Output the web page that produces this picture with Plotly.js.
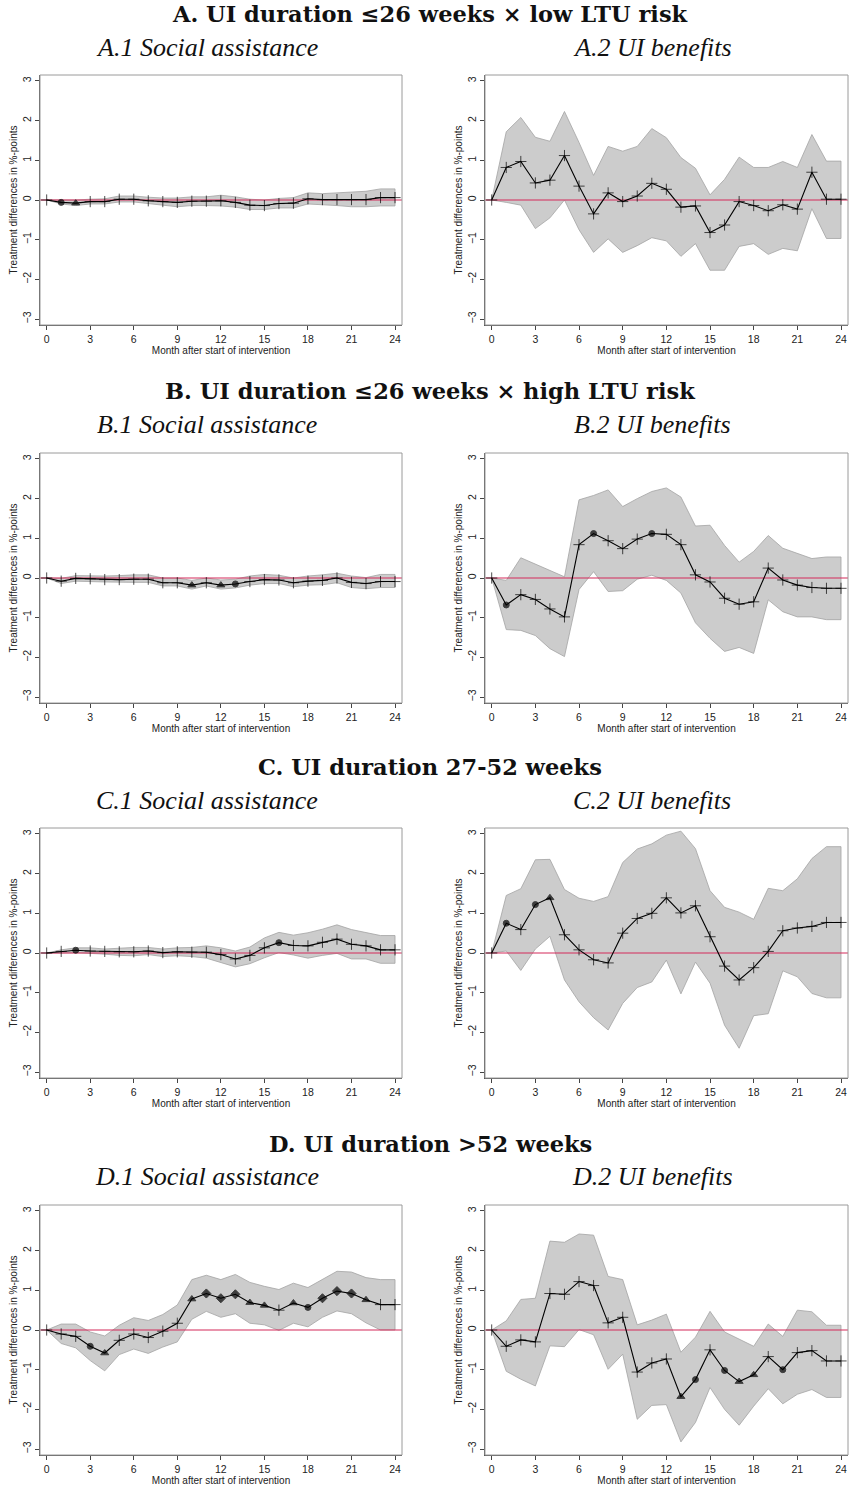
<!DOCTYPE html>
<html>
<head>
<meta charset="utf-8">
<script src="https://cdn.plot.ly/plotly-3.0.1.min.js"></script>
<style>html,body{margin:0;padding:0;background:#fff;}#chart{width:849px;height:1486px;}</style>
</head>
<body>
<div id="chart"></div>
<script>
// ---------- DATA ----------
const months = [0,1,2,3,4,5,6,7,8,9,10,11,12,13,14,15,16,17,18,19,20,21,22,23,24];
const xTicks = [0,3,6,9,12,15,18,21,24];
const yTicks = [-3,-2,-1,0,1,2,3];

const sectionTitles = [
  "A. UI duration ≤26 weeks × low LTU risk",
  "B. UI duration ≤26 weeks × high LTU risk",
  "C. UI duration 27-52 weeks",
  "D. UI duration >52 weeks"
];
const panelTitles = [
  "A.1 Social assistance", "A.2 UI benefits",
  "B.1 Social assistance", "B.2 UI benefits",
  "C.1 Social assistance", "C.2 UI benefits",
  "D.1 Social assistance", "D.2 UI benefits"
];
const xAxisTitle = "Month after start of intervention";
const yAxisTitle = "Treatment differences in %-points";

// marker codes: p = plus, t = triangle, c = circle, d = diamond
// A.1
const a1Est = [0,-0.06,-0.08,-0.04,-0.04,0.02,0.02,-0.02,-0.04,-0.06,-0.03,-0.03,-0.02,-0.06,-0.13,-0.14,-0.09,-0.08,0.03,0.01,0.01,0.01,0.01,0.06,0.06];
const a1Hi  = [0,0,0,0.02,0.03,0.1,0.1,0.07,0.05,0.05,0.08,0.08,0.12,0.08,0.02,0,0.04,0.06,0.18,0.16,0.18,0.2,0.22,0.28,0.28];
const a1Lo  = [0,-0.1,-0.14,-0.1,-0.1,-0.05,-0.05,-0.1,-0.13,-0.17,-0.14,-0.14,-0.15,-0.18,-0.24,-0.24,-0.2,-0.2,-0.1,-0.12,-0.14,-0.17,-0.17,-0.15,-0.15];
const a1Sig = ['p','c','t','p','p','p','p','p','p','p','p','p','p','p','p','p','p','p','p','p','p','p','p','p','p'];
// A.2
const a2Est = [0,0.82,0.97,0.43,0.5,1.12,0.35,-0.35,0.18,-0.04,0.1,0.42,0.27,-0.18,-0.15,-0.82,-0.63,-0.04,-0.14,-0.27,-0.12,-0.23,0.7,0.02,0.02];
const a2Hi  = [0,1.72,2.08,1.58,1.48,2.23,1.45,0.62,1.35,1.23,1.35,1.8,1.57,1.07,0.8,0.13,0.52,1.08,0.82,0.82,0.97,0.82,1.65,0.98,0.98];
const a2Lo  = [0,-0.06,-0.13,-0.72,-0.45,0,-0.75,-1.32,-0.98,-1.32,-1.15,-0.95,-1.03,-1.42,-1.1,-1.77,-1.77,-1.17,-1.1,-1.37,-1.22,-1.28,-0.22,-0.97,-0.97];
const a2Sig = ['p','p','p','p','p','p','p','p','p','p','p','p','p','p','p','p','p','p','p','p','p','p','p','p','p'];
// B.1
const b1Est = [0,-0.08,-0.01,-0.02,-0.04,-0.04,-0.03,-0.03,-0.12,-0.12,-0.18,-0.12,-0.18,-0.15,-0.09,-0.04,-0.05,-0.12,-0.08,-0.06,0,-0.11,-0.14,-0.09,-0.09];
const b1Hi  = [0,-0.01,0.06,0.05,0.05,0.06,0.08,0.08,0,0,-0.06,0,-0.05,-0.03,0.05,0.09,0.07,0,0.05,0.08,0.12,0.05,0.01,0.09,0.09];
const b1Lo  = [0,-0.14,-0.08,-0.09,-0.1,-0.11,-0.11,-0.11,-0.2,-0.2,-0.28,-0.2,-0.28,-0.25,-0.18,-0.14,-0.14,-0.22,-0.18,-0.17,-0.12,-0.24,-0.27,-0.24,-0.24];
const b1Sig = ['p','p','p','p','p','p','p','p','p','p','t','p','t','c','p','p','p','p','p','p','p','p','p','p','p'];
// B.2
const b2Est = [0,-0.68,-0.42,-0.54,-0.78,-0.98,0.84,1.12,0.94,0.74,0.98,1.12,1.1,0.84,0.08,-0.1,-0.51,-0.66,-0.6,0.25,-0.05,-0.18,-0.24,-0.26,-0.26];
const b2Hi  = [0,-0.06,0.51,0.35,0.19,0.03,1.97,2.08,2.22,1.8,2.0,2.18,2.27,2.04,1.31,1.33,0.82,0.4,0.67,1.07,0.75,0.61,0.49,0.53,0.53];
const b2Lo  = [0,-1.3,-1.32,-1.45,-1.78,-1.98,-0.29,0.16,-0.34,-0.32,-0.03,0.07,-0.06,-0.38,-1.13,-1.52,-1.85,-1.75,-1.9,-0.55,-0.85,-0.98,-0.98,-1.05,-1.05];
const b2Sig = ['p','c','p','p','p','p','p','c','p','p','p','c','p','p','p','p','p','p','p','p','p','p','p','p','p'];
// C.1
const c1Est = [0,0.04,0.07,0.05,0.04,0.03,0.03,0.05,0.01,0.03,0.02,0.02,-0.04,-0.15,-0.06,0.13,0.26,0.19,0.18,0.27,0.35,0.22,0.18,0.08,0.08];
const c1Hi  = [0,0.08,0.13,0.13,0.1,0.12,0.14,0.14,0.1,0.13,0.14,0.18,0.13,0.05,0.15,0.38,0.52,0.45,0.51,0.6,0.71,0.59,0.52,0.44,0.44];
const c1Lo  = [0,0,0.01,-0.01,-0.03,-0.06,-0.07,-0.04,-0.09,-0.07,-0.09,-0.13,-0.23,-0.35,-0.27,-0.12,0.01,-0.05,-0.13,-0.06,-0.01,-0.15,-0.15,-0.26,-0.26];
const c1Sig = ['p','p','c','p','p','p','p','p','p','p','p','p','p','p','p','p','c','p','p','p','p','p','p','p','p'];
// C.2
const c2Est = [0,0.75,0.59,1.22,1.39,0.46,0.08,-0.17,-0.25,0.5,0.87,1.0,1.39,1.01,1.19,0.41,-0.33,-0.68,-0.37,0.04,0.56,0.63,0.67,0.77,0.77];
const c2Hi  = [0,1.45,1.62,2.35,2.36,1.6,1.38,1.3,1.42,2.28,2.62,2.75,2.97,3.07,2.63,1.57,1.15,1.03,0.85,1.63,1.57,1.87,2.38,2.68,2.68];
const c2Lo  = [0,0.05,-0.44,0.1,0.42,-0.68,-1.23,-1.63,-1.94,-1.27,-0.87,-0.73,-0.18,-1.03,-0.23,-0.76,-1.82,-2.4,-1.58,-1.53,-0.45,-0.6,-1.02,-1.13,-1.13];
const c2Sig = ['p','c','p','c','t','p','p','p','p','p','p','p','p','p','p','p','p','p','p','p','p','p','p','p','p'];
// D.1
const d1Est = [0,-0.1,-0.16,-0.41,-0.58,-0.26,-0.1,-0.19,-0.03,0.17,0.78,0.92,0.8,0.9,0.69,0.62,0.5,0.68,0.57,0.8,0.98,0.92,0.76,0.64,0.64];
const d1Hi  = [0,0.15,0.15,-0.05,-0.15,0.12,0.31,0.24,0.39,0.63,1.27,1.38,1.27,1.4,1.2,1.1,1.02,1.18,1.07,1.28,1.48,1.46,1.32,1.27,1.27];
const d1Lo  = [0,-0.34,-0.45,-0.77,-1.03,-0.62,-0.48,-0.59,-0.43,-0.3,0.27,0.47,0.32,0.41,0.17,0.13,-0.01,0.17,0.08,0.32,0.48,0.41,0.18,0,0];
const d1Sig = ['p','p','p','c','t','p','p','p','p','p','t','d','d','d','t','t','p','t','c','d','d','d','t','p','p'];
// D.2
const d2Est = [0,-0.41,-0.25,-0.3,0.92,0.9,1.22,1.12,0.18,0.32,-1.06,-0.83,-0.73,-1.68,-1.25,-0.5,-1.02,-1.3,-1.13,-0.67,-1.0,-0.57,-0.52,-0.78,-0.78];
const d2Hi  = [0,0.23,0.77,0.8,2.24,2.21,2.42,2.39,1.35,1.27,0.13,0.25,0.4,-0.56,-0.18,0.47,-0.05,-0.23,-0.41,0.15,-0.16,0.5,0.46,0.12,0.12];
const d2Lo  = [0,-1.04,-1.24,-1.41,-0.4,-0.42,0.01,-0.12,-0.99,-0.61,-2.25,-1.9,-1.88,-2.82,-2.33,-1.45,-2.0,-2.4,-1.92,-1.48,-1.86,-1.62,-1.5,-1.7,-1.7];
const d2Sig = ['p','p','p','p','p','p','p','p','p','p','p','p','p','t','c','p','c','t','t','p','c','p','p','p','p'];

const panels = [
  {est:a1Est, hi:a1Hi, lo:a1Lo, sig:a1Sig},
  {est:a2Est, hi:a2Hi, lo:a2Lo, sig:a2Sig},
  {est:b1Est, hi:b1Hi, lo:b1Lo, sig:b1Sig},
  {est:b2Est, hi:b2Hi, lo:b2Lo, sig:b2Sig},
  {est:c1Est, hi:c1Hi, lo:c1Lo, sig:c1Sig},
  {est:c2Est, hi:c2Hi, lo:c2Lo, sig:c2Sig},
  {est:d1Est, hi:d1Hi, lo:d1Lo, sig:d1Sig},
  {est:d2Est, hi:d2Hi, lo:d2Lo, sig:d2Sig}
];

// ---------- STYLE / LAYOUT ----------
const W = 849, H = 1486;
const xRange = [-0.46, 24.48];
const yRange = [-3.15, 3.15];
const colPx = [[40, 402], [485, 848]];
const rowPx = [[75, 325], [453, 703], [828, 1078], [1205, 1455]];
const secTitlePx = [14, 391, 767, 1144];
const subTitlePx = [47, 424, 800, 1176];
const symMap = {p:'cross-thin-open', t:'triangle-up', c:'circle', d:'diamond'};
const sizeMap = {p:8, t:7, c:6, d:7};
const sansFont = 'Liberation Sans, Arial, sans-serif';

const traces = [];
const layout = {
  width: W, height: H, autosize: false,
  margin: {l:0, r:0, t:0, b:0},
  paper_bgcolor: '#ffffff', plot_bgcolor: '#ffffff',
  showlegend: false,
  font: {family: sansFont, size: 10, color: '#222'},
  annotations: [], shapes: []
};

panels.forEach((p, i) => {
  const row = Math.floor(i / 2), col = i % 2;
  const n = i + 1;
  const xa = n === 1 ? 'x' : 'x' + n;
  const ya = n === 1 ? 'y' : 'y' + n;
  const xKey = n === 1 ? 'xaxis' : 'xaxis' + n;
  const yKey = n === 1 ? 'yaxis' : 'yaxis' + n;

  // confidence band polygon
  traces.push({
    type: 'scatter', mode: 'lines', xaxis: xa, yaxis: ya,
    x: months.concat(months.slice().reverse()),
    y: p.hi.concat(p.lo.slice().reverse()),
    fill: 'toself', fillcolor: '#cccccc',
    line: {color: '#a3a3a3', width: 0.8}, hoverinfo: 'skip'
  });
  // zero reference line
  traces.push({
    type: 'scatter', mode: 'lines', xaxis: xa, yaxis: ya,
    x: xRange, y: [0, 0],
    line: {color: '#d42a5a', width: 1.2}, hoverinfo: 'skip'
  });
  // estimates
  traces.push({
    type: 'scatter', mode: 'lines+markers', xaxis: xa, yaxis: ya,
    x: months, y: p.est,
    line: {color: '#000000', width: 1.1},
    marker: {
      symbol: p.sig.map(s => symMap[s]),
      size: p.sig.map(s => sizeMap[s]),
      color: '#000000',
      line: {color: '#000000', width: 1}
    },
    cliponaxis: false
  });

  const xd = [colPx[col][0] / W, colPx[col][1] / W];
  const yd = [1 - rowPx[row][1] / H, 1 - rowPx[row][0] / H];

  layout[xKey] = {
    domain: xd, anchor: ya, range: xRange, tickvals: xTicks,
    ticks: 'outside', ticklen: 4, tickcolor: '#444', tickwidth: 1,
    showline: true, linecolor: '#555', linewidth: 1, mirror: false,
    showgrid: false, zeroline: false,
    tickfont: {family: sansFont, size: 10.5, color: '#222'},
    title: {text: xAxisTitle, standoff: 0,
            font: {family: sansFont, size: 10, color: '#222'}}
  };
  layout[yKey] = {
    domain: yd, anchor: xa, range: yRange, tickvals: yTicks,
    ticks: 'outside', ticklen: 4, tickcolor: '#444', tickwidth: 1, tickangle: -90,
    showline: true, linecolor: '#555', linewidth: 1, mirror: false,
    showgrid: false, zeroline: false,
    tickfont: {family: sansFont, size: 10.5, color: '#222'},
    title: {text: yAxisTitle, standoff: 1,
            font: {family: sansFont, size: 10, color: '#222'}}
  };
  // plot region box
  layout.shapes.push({
    type: 'rect', xref: xa + ' domain', yref: ya + ' domain',
    x0: 0, x1: 1, y0: 0, y1: 1,
    line: {color: '#9a9a9a', width: 1}, layer: 'above'
  });
  // panel subtitle
  layout.annotations.push({
    text: '<i>' + panelTitles[i] + '</i>', xref: 'paper', yref: 'paper',
    x: col === 0 ? 207 / W : 652 / W, y: 1 - subTitlePx[row] / H,
    xanchor: 'center', yanchor: 'middle', showarrow: false,
    font: {family: 'Liberation Serif, Times New Roman, serif', size: 26, color: '#111'}
  });
});

sectionTitles.forEach((t, r) => {
  layout.annotations.push({
    text: '<b>' + t + '</b>', xref: 'paper', yref: 'paper',
    x: 430 / W, y: 1 - secTitlePx[r] / H,
    xanchor: 'center', yanchor: 'middle', showarrow: false,
    font: {family: 'DejaVu Serif, serif', size: 22.5, color: '#111'}
  });
});

Plotly.newPlot('chart', traces, layout, {staticPlot: true, displayModeBar: false});
</script>
</body>
</html>
